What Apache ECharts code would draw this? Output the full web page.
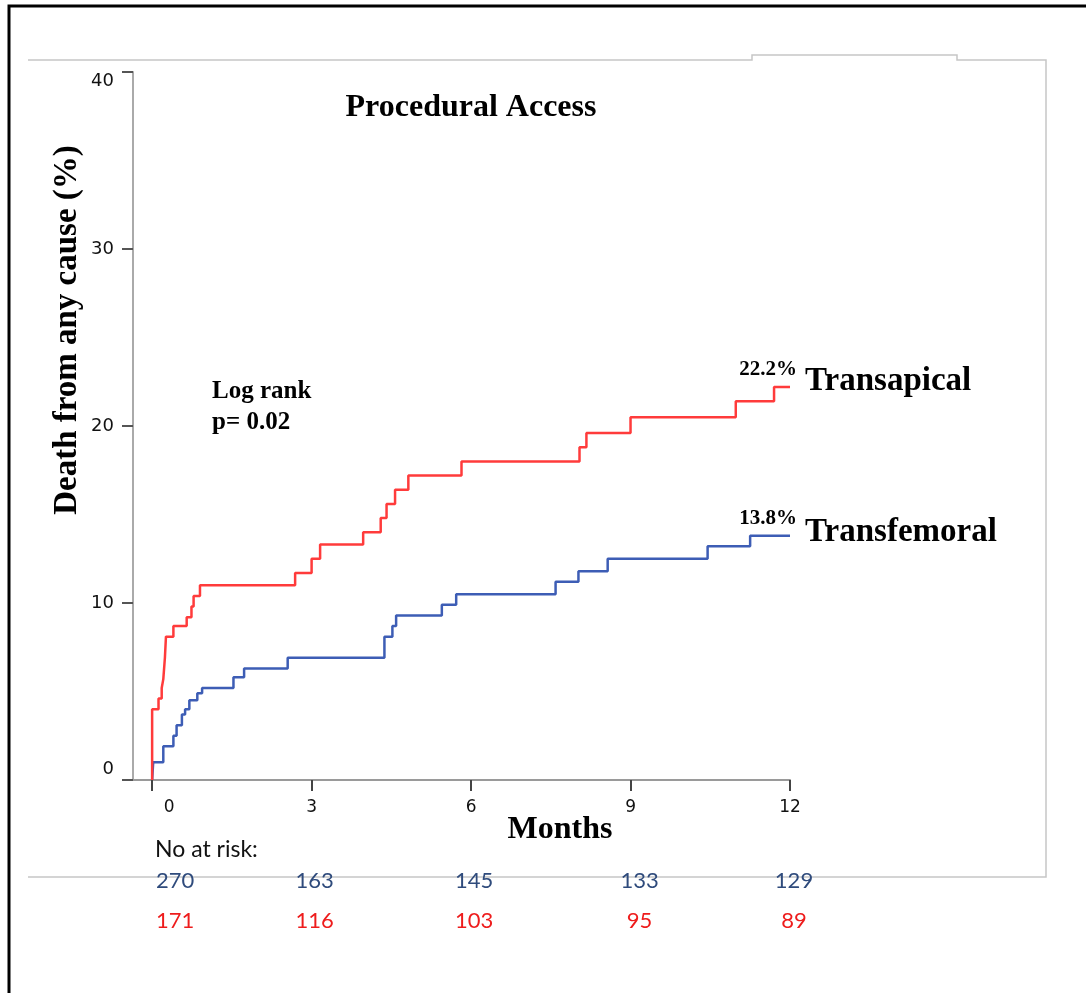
<!DOCTYPE html>
<html>
<head>
<meta charset="utf-8">
<script src="https://cdn.jsdelivr.net/npm/echarts@6/dist/echarts.min.js"></script>
<style>
  html, body { margin: 0; padding: 0; background: #ffffff; }
  #chart { width: 1086px; height: 993px; }
</style>
</head>
<body>
<div id="chart"></div>
<script>
// Kaplan-Meier cumulative mortality by procedural access (months, % dead)
const transapicalMonths = [0, 0, 0.12, 0.18, 0.21, 0.24, 0.26, 0.40, 0.65, 0.74, 0.78, 0.90, 2.69, 3.00, 3.16, 3.97, 4.30, 4.41, 4.57, 4.82, 5.82, 8.04, 8.17, 9.00, 10.98, 11.70, 12];
const transapicalPct    = [0, 4.0, 4.6, 5.2, 5.7, 6.9, 8.1, 8.7, 9.2, 9.8, 10.4, 11.0, 11.7, 12.5, 13.3, 14.0, 14.8, 15.6, 16.4, 17.2, 18.0, 18.8, 19.6, 20.5, 21.4, 22.2, 22.2];

const transfemoralMonths = [0, 0.02, 0.21, 0.40, 0.46, 0.56, 0.62, 0.70, 0.85, 0.94, 1.53, 1.73, 2.55, 4.37, 4.52, 4.59, 5.45, 5.72, 7.59, 8.02, 8.57, 10.45, 11.25, 12];
const transfemoralPct    = [0, 1.0, 1.9, 2.5, 3.1, 3.7, 4.0, 4.5, 4.9, 5.2, 5.8, 6.3, 6.9, 8.1, 8.7, 9.3, 9.9, 10.5, 11.2, 11.8, 12.5, 13.2, 13.8, 13.8];

// Axis ticks
const monthTicks = [0, 3, 6, 9, 12];
const pctTicks = [0, 10, 20, 30, 40];

// Numbers at risk at each tick month
const riskMonths = [0, 3, 6, 9, 12];
const riskTransfemoral = [270, 163, 145, 133, 129];
const riskTransapical = [171, 116, 103, 95, 89];

const seriesNames = ['Transapical', 'Transfemoral'];

const RED = '#ff3b3b';
const BLUE = '#3d5db5';
const SERIF = '"Liberation Serif", "Times New Roman", serif';
const SANS = '"DejaVu Sans", Verdana, sans-serif';
const RISK_FONT = 'Lato, "Open Sans", sans-serif';

const zip = (xs, ys) => xs.map((x, i) => [x, ys[i]]);

const chart = echarts.init(document.getElementById('chart'), null, { renderer: 'canvas' });

const baseOption = {
  backgroundColor: '#ffffff',
  animation: false,
  grid: { left: 133, right: 296, top: 72, bottom: 213, containLabel: false },
  xAxis: {
    type: 'value',
    min: -0.36,
    max: 12,
    splitLine: { show: false },
    axisLine: { show: true, onZero: false, lineStyle: { color: '#9a9a9a', width: 2 } },
    axisTick: { show: true, customValues: monthTicks, length: 11, lineStyle: { color: '#444', width: 2 } },
    axisLabel: {
      customValues: monthTicks,
      margin: 19,
      fontFamily: SANS,
      fontSize: 17,
      color: '#111',
      formatter: v => (v === 0 ? '{z|0}' : String(v)),
      rich: { z: { padding: [0, 0, 0, 34], fontFamily: SANS, fontSize: 17, color: '#111' } }
    }
  },
  yAxis: {
    type: 'value',
    min: pctTicks[0],
    max: pctTicks[pctTicks.length - 1],
    interval: 10,
    splitLine: { show: false },
    axisLine: { show: true, onZero: false, lineStyle: { color: '#aaaaaa', width: 2 } },
    axisTick: { show: true, length: 11, lineStyle: { color: '#555', width: 2 } },
    axisLabel: {
      margin: 19,
      fontFamily: SANS,
      fontSize: 18,
      color: '#111',
      formatter: v => (v === 40 ? '{t|40}' : v === 0 ? '{b|0}' : String(v)),
      rich: {
        t: { padding: [18, 0, 0, 0], fontFamily: SANS, fontSize: 18, color: '#111' },
        b: { padding: [0, 0, 22, 0], fontFamily: SANS, fontSize: 18, color: '#111' }
      }
    }
  },
  series: [
    {
      name: seriesNames[0],
      type: 'line',
      step: 'end',
      symbol: 'none',
      data: zip(transapicalMonths, transapicalPct),
      lineStyle: { color: RED, width: 2.5 },
      z: 3
    },
    {
      name: seriesNames[1],
      type: 'line',
      step: 'end',
      symbol: 'none',
      data: zip(transfemoralMonths, transfemoralPct),
      lineStyle: { color: BLUE, width: 2.5 },
      z: 2
    }
  ]
};

chart.setOption(baseOption);

// Text and frame elements placed against the axes' scales
function buildGraphic() {
  const els = [];

  // Outer black border
  els.push({
    type: 'polyline', silent: true, z: -10,
    shape: { points: [[9, 1000], [9, 6], [1092, 6]] },
    style: { stroke: '#000', lineWidth: 3, fill: null }
  });
  // Inner grey panel outline
  els.push({
    type: 'polyline', silent: true, z: -9,
    shape: { points: [[28, 60], [752, 60], [752, 55], [957, 55], [957, 60], [1046, 60], [1046, 877], [28, 877]] },
    style: { stroke: '#c6c6c6', lineWidth: 1.5, fill: null }
  });

  // Title
  els.push({
    type: 'text', x: 471, y: 108,
    style: { text: 'Procedural Access', font: 'bold 32px ' + SERIF, fill: '#000', align: 'center', verticalAlign: 'middle' }
  });
  // Y axis title
  els.push({
    type: 'text', x: 67, y: 330, rotation: Math.PI / 2,
    style: { text: 'Death from any cause (%)', font: 'bold 33px ' + SERIF, fill: '#000', align: 'center', verticalAlign: 'middle' }
  });
  // X axis title
  els.push({
    type: 'text', x: 560, y: 830,
    style: { text: 'Months', font: 'bold 32px ' + SERIF, fill: '#000', align: 'center', verticalAlign: 'middle' }
  });
  // Log rank annotation
  els.push({
    type: 'text', x: 212, y: 392,
    style: { text: 'Log rank', font: 'bold 25px ' + SERIF, fill: '#000', align: 'left', verticalAlign: 'middle' }
  });
  els.push({
    type: 'text', x: 212, y: 423,
    style: { text: 'p= 0.02', font: 'bold 25px ' + SERIF, fill: '#000', align: 'left', verticalAlign: 'middle' }
  });

  // End-of-follow-up values and group names
  const ends = [
    { name: seriesNames[0], m: transapicalMonths[transapicalMonths.length - 1], v: transapicalPct[transapicalPct.length - 1], nameDy: -6 },
    { name: seriesNames[1], m: transfemoralMonths[transfemoralMonths.length - 1], v: transfemoralPct[transfemoralPct.length - 1], nameDy: -3 }
  ];
  ends.forEach(e => {
    const p = chart.convertToPixel({ gridIndex: 0 }, [e.m, e.v]);
    els.push({
      type: 'text', x: p[0] + 7, y: p[1] - 17,
      style: { text: e.v.toFixed(1) + '%', font: 'bold 21px ' + SERIF, fill: '#000', align: 'right', verticalAlign: 'middle' }
    });
    els.push({
      type: 'text', x: p[0] + 15, y: p[1] + e.nameDy,
      style: { text: e.name, font: 'bold 33px ' + SERIF, fill: '#000', align: 'left', verticalAlign: 'middle' }
    });
  });

  // Numbers at risk table
  els.push({
    type: 'text', x: 155, y: 850,
    style: { text: 'No at risk:', font: '23px ' + RISK_FONT, fill: '#111', align: 'left', verticalAlign: 'middle' }
  });
  const colNudge = [23, 3, 3, 9, 4];
  riskMonths.forEach((m, i) => {
    const px = chart.convertToPixel({ xAxisIndex: 0 }, m) + colNudge[i];
    els.push({
      type: 'text', x: px, y: 881,
      style: { text: String(riskTransfemoral[i]), font: '22px ' + RISK_FONT, fill: '#2f4b7c', align: 'center', verticalAlign: 'middle' }
    });
    els.push({
      type: 'text', x: px, y: 921,
      style: { text: String(riskTransapical[i]), font: '22px ' + RISK_FONT, fill: '#ee1c1c', align: 'center', verticalAlign: 'middle' }
    });
  });

  return els;
}

chart.setOption({ graphic: buildGraphic() });
</script>
</body>
</html>
